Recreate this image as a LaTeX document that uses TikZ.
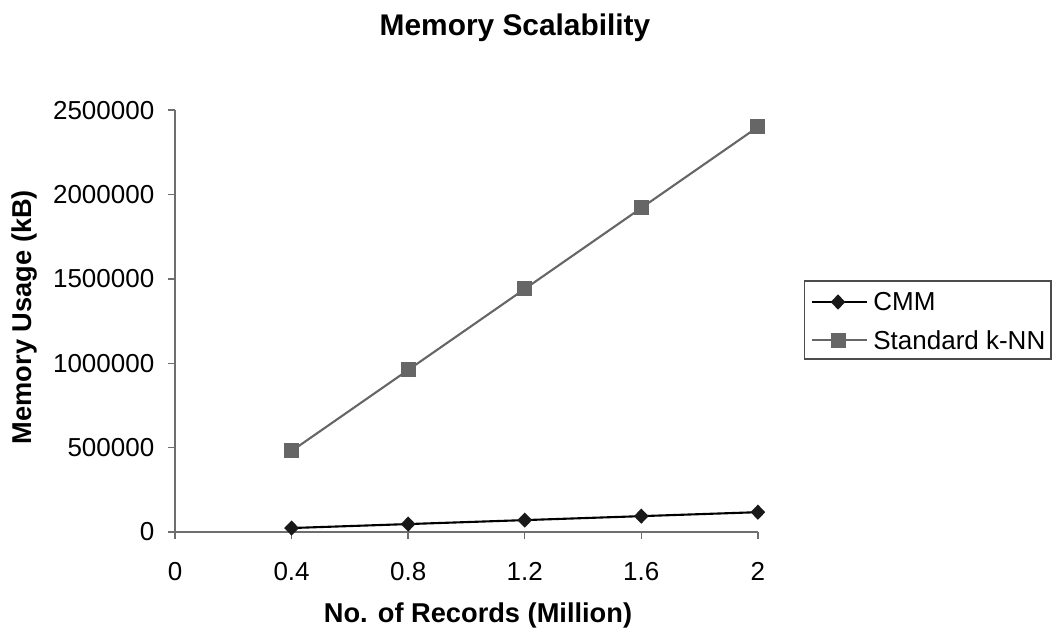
\documentclass[tikz,border=0pt]{standalone}
\usepackage{fontspec}
\setmainfont{Liberation Sans}
\usetikzlibrary{shapes.geometric,positioning}
\definecolor{axisgray}{RGB}{110,110,110}
\definecolor{knngray}{RGB}{102,102,102}

\begin{document}
\begin{tikzpicture}[x=0.02cm,y=-0.02cm,
	axis/.style={draw=axisgray,line width=0.8pt},
	cmmline/.style={draw=black,line width=1.2pt},
	knnline/.style={draw=knngray,line width=1.2pt},
	cmmmark/.style={diamond,fill=black!90,inner sep=0pt,minimum width=0.3cm,minimum height=0.31cm},
	knnmark/.style={rectangle,fill=knngray,inner sep=0pt,minimum size=0.3cm},
	ticklabel/.style={font=\fontsize{14.8}{17}\selectfont,inner sep=0pt},
	axislabel/.style={font=\fontsize{15.5}{18}\selectfont\bfseries,inner sep=0pt}]

	\useasboundingbox (0,0) rectangle (1058,635);

	\node[font=\fontsize{17}{20}\selectfont\bfseries,inner sep=0pt,anchor=base] (title) at (515,36) {Memory Scalability};

	% plot area, data units (y in 100000 kB)
	\begin{scope}[shift={(175,532)},x=5.83cm,y=0.3376cm]
		\draw[axis] (0,25) -- (0,0) -- (2,0);
		\foreach \v/\t in {0/0,5/500000,10/1000000,15/1500000,20/2000000,25/2500000}{
			\draw[axis] (0,\v) -- ++(-0.14cm,0) node[ticklabel,left=0.26cm] {\t};
		}
		\foreach \x in {0,0.4,0.8,1.2,1.6,2}{
			\draw[axis] (\x,0) -- ++(0,-0.14cm);
			\node[ticklabel,below=0.6cm] at (\x,0) {\x};
		}

		\foreach \i/\xv/\c/\s in {1/0.4/0.235/4.8, 2/0.8/0.47/9.6, 3/1.2/0.705/14.4, 4/1.6/0.94/19.2, 5/2/1.175/24}{
			\coordinate (cp\i) at (\xv,\c);
			\coordinate (sp\i) at (\xv,\s);
		}
		\draw[knnline] (sp1) -- (sp2) -- (sp3) -- (sp4) -- (sp5);
		\draw[cmmline] (cp1) -- (cp2) -- (cp3) -- (cp4) -- (cp5);
		\foreach \i in {1,...,5}{
			\node[knnmark] (s\i) at (sp\i) {};
			\node[cmmmark] (c\i) at (cp\i) {};
		}
	\end{scope}

	\node[axislabel,rotate=90,anchor=base] (ylab) at (31.6,317) {Memory Usage (kB)};
	\node[axislabel,anchor=base] (xlab) at (478,622) {No. of Records (Million)};

	% legend
	\node[draw=black!70,line width=0.6pt,minimum width=4.94cm,minimum height=1.56cm] (legend) at (927.5,320) {};
	\coordinate (la1) at (812,302);
	\coordinate (la2) at (867,302);
	\coordinate (lb1) at (812,340);
	\coordinate (lb2) at (867,340);
	\draw[cmmline] (la1) -- (la2);
	\draw[knnline] (lb1) -- (lb2);
	\node[cmmmark] (lcmm) at (838,302) {};
	\node[knnmark] (lknn) at (838,340) {};
	\node[ticklabel,anchor=west] (tcmm) at (873,302) {CMM};
	\node[ticklabel,anchor=west] (tknn) at (873,340) {Standard k-NN};
\end{tikzpicture}
\end{document}
